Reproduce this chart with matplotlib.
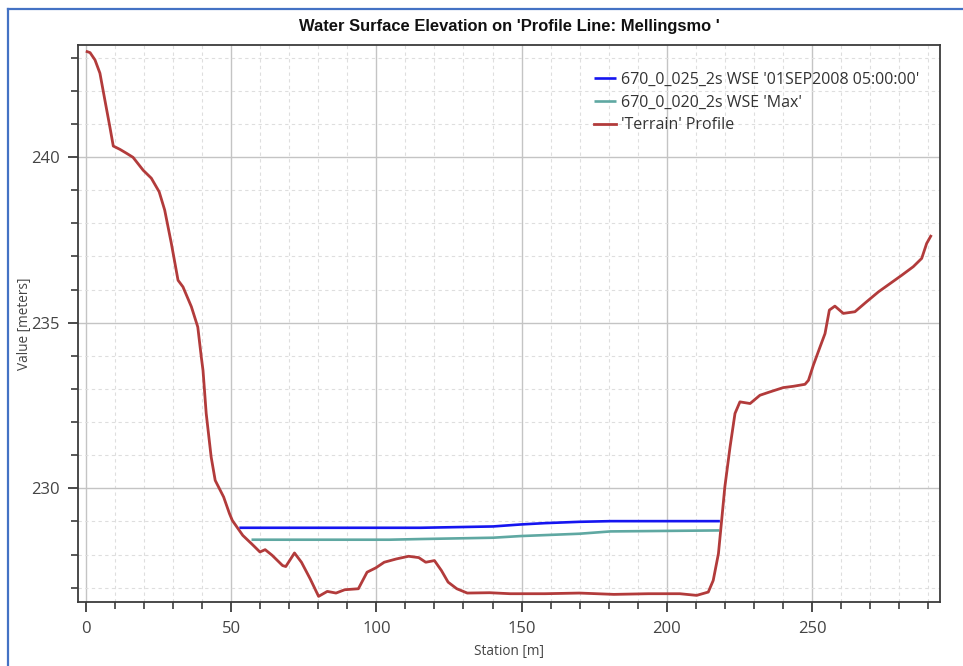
import matplotlib
matplotlib.use("Agg")
import matplotlib.pyplot as plt
from matplotlib.ticker import MultipleLocator
from matplotlib.lines import Line2D

# Terrain profile along the profile line (station [m], elevation [m])
terrain_station = [0.4, 1.4, 3.1, 4.8, 6.5, 8.2, 9.4, 11.7, 14.0, 16.2, 19.7, 22.5,
                   25.2, 27.1, 29.4, 31.7, 33.4, 36.3, 38.5, 39.7, 40.3, 41.4, 43.1,
                   44.5, 47.4, 49.4, 50.4, 52.8, 54.0, 57.0, 59.9, 61.7, 64.1, 67.7,
                   68.8, 71.8, 74.2, 77.2, 80.1, 83.1, 86.1, 89.1, 93.8, 96.8, 99.8,
                   102.7, 106.9, 111.1, 114.6, 117.0, 120.0, 122.4, 124.7, 127.7,
                   131.3, 139.0, 146.1, 158.0, 169.9, 181.8, 193.7, 204.5, 210.3,
                   214.3, 216.0, 217.8, 218.9, 220.0, 221.8, 223.5, 225.2, 228.7,
                   232.1, 235.5, 240.1, 243.6, 247.6, 248.8, 250.5, 252.8, 254.5,
                   256.0, 257.9, 260.8, 264.8, 268.8, 272.9, 276.9, 280.9, 284.9,
                   287.8, 289.5, 290.9]
terrain_elev = [243.18, 243.15, 242.93, 242.53, 241.72, 240.92, 240.33, 240.23, 240.11,
                239.99, 239.60, 239.36, 238.95, 238.40, 237.39, 236.28, 236.08, 235.48,
                234.87, 233.97, 233.56, 232.26, 230.95, 230.24, 229.74, 229.24, 229.03,
                228.73, 228.58, 228.33, 228.08, 228.15, 227.98, 227.67, 227.64, 228.05,
                227.77, 227.27, 226.74, 226.89, 226.84, 226.94, 226.97, 227.47, 227.60,
                227.77, 227.87, 227.95, 227.91, 227.77, 227.82, 227.52, 227.17, 226.97,
                226.84, 226.85, 226.82, 226.82, 226.84, 226.80, 226.82, 226.82, 226.77,
                226.87, 227.22, 228.03, 229.03, 230.04, 231.25, 232.26, 232.61, 232.56,
                232.81, 232.91, 233.04, 233.08, 233.14, 233.26, 233.72, 234.27, 234.67,
                235.38, 235.50, 235.28, 235.33, 235.63, 235.93, 236.18, 236.43, 236.69,
                236.94, 237.39, 237.61]

# Water surface, run 670_0_025_2s at 01SEP2008 05:00:00
wse_time_station = [52.8, 115.2, 140.2, 149.7, 158.0, 169.9, 180.6, 218.3]
wse_time_elev = [228.81, 228.81, 228.85, 228.91, 228.95, 228.99, 229.01, 229.01]

# Water surface, run 670_0_020_2s maximum
wse_max_station = [57.0, 104.5, 115.2, 140.2, 149.7, 169.9, 180.6, 218.1]
wse_max_elev = [228.45, 228.45, 228.47, 228.51, 228.56, 228.63, 228.70, 228.73]

series_labels = ["670_0_025_2s WSE '01SEP2008 05:00:00'",
                 "670_0_020_2s WSE 'Max'",
                 "'Terrain' Profile"]
series_colors = ["#1515f0", "#5fa8a2", "#b23b3b"]

title_text = "Water Surface Elevation on 'Profile Line: Mellingsmo '"
xlabel_text = "Station [m]"
ylabel_text = "Value [meters]"

plt.rcParams['font.family'] = ['Open Sans', 'DejaVu Sans']

W, H = 963, 666
fig = plt.figure(figsize=(W / 100, H / 100), dpi=100)
fig.patch.set_facecolor("white")

# window frame lines along the top and left edges
fig.add_artist(Line2D([8 / W, 8 / W], [0, 1 - 9 / H], transform=fig.transFigure,
                      color="#4472c4", lw=1.6))
fig.add_artist(Line2D([8 / W, 1], [1 - 9 / H, 1 - 9 / H], transform=fig.transFigure,
                      color="#4472c4", lw=1.6))

left, right, top, bottom = 78, 940, 45, 602
ax = fig.add_axes([left / W, 1 - bottom / H, (right - left) / W, (bottom - top) / H])

ax.plot(wse_time_station, wse_time_elev, color=series_colors[0], lw=1.9,
        label=series_labels[0], zorder=3, solid_capstyle="butt")
ax.plot(wse_max_station, wse_max_elev, color=series_colors[1], lw=1.9,
        label=series_labels[1], zorder=3, solid_capstyle="butt")
ax.plot(terrain_station, terrain_elev, color=series_colors[2], lw=2.0,
        label=series_labels[2], zorder=4, solid_joinstyle="round")

ax.set_xlim(-2.75, 294.1)
ax.set_ylim(226.57, 243.38)

ax.xaxis.set_major_locator(MultipleLocator(50))
ax.xaxis.set_minor_locator(MultipleLocator(10))
ax.yaxis.set_major_locator(MultipleLocator(5))
ax.yaxis.set_minor_locator(MultipleLocator(1))

ax.grid(which="major", color="#c4c4c4", lw=1.0, ls="-", zorder=0)
ax.grid(which="minor", color="#dedede", lw=0.8, ls=(0, (3, 3)), zorder=0)
ax.set_axisbelow(True)

for sp in ax.spines.values():
    sp.set_color("#3c3c3c")
    sp.set_linewidth(1.3)

ax.tick_params(which="major", direction="out", length=7, width=1.3, color="#3c3c3c",
               labelsize=12, labelcolor="#444444")
ax.tick_params(axis="x", which="major", pad=6.5)
ax.tick_params(axis="y", which="major", pad=6)
ax.tick_params(which="minor", direction="out", length=5, width=1.2, color="#3c3c3c")

ax.set_xlabel(xlabel_text, fontsize=9.8, color="#444444", labelpad=5.5)
ax.set_ylabel(ylabel_text, fontsize=9.8, color="#444444", labelpad=-0.8)

fig.text((left + right) / 2 / W, 1 - 27 / H, title_text, ha="center", va="center",
         fontsize=11.9, fontweight="bold", color="#111111",
         family=["Liberation Sans", "DejaVu Sans"])

leg = ax.legend(loc="upper left", bbox_to_anchor=(0.5985, 0.952), frameon=False,
                fontsize=11.5, handlelength=1.4, handletextpad=0.32,
                labelspacing=0.43, borderaxespad=0, borderpad=0)
for t in leg.get_texts():
    t.set_color("#333333")

fig.savefig("out.png", dpi=100, facecolor="white")
